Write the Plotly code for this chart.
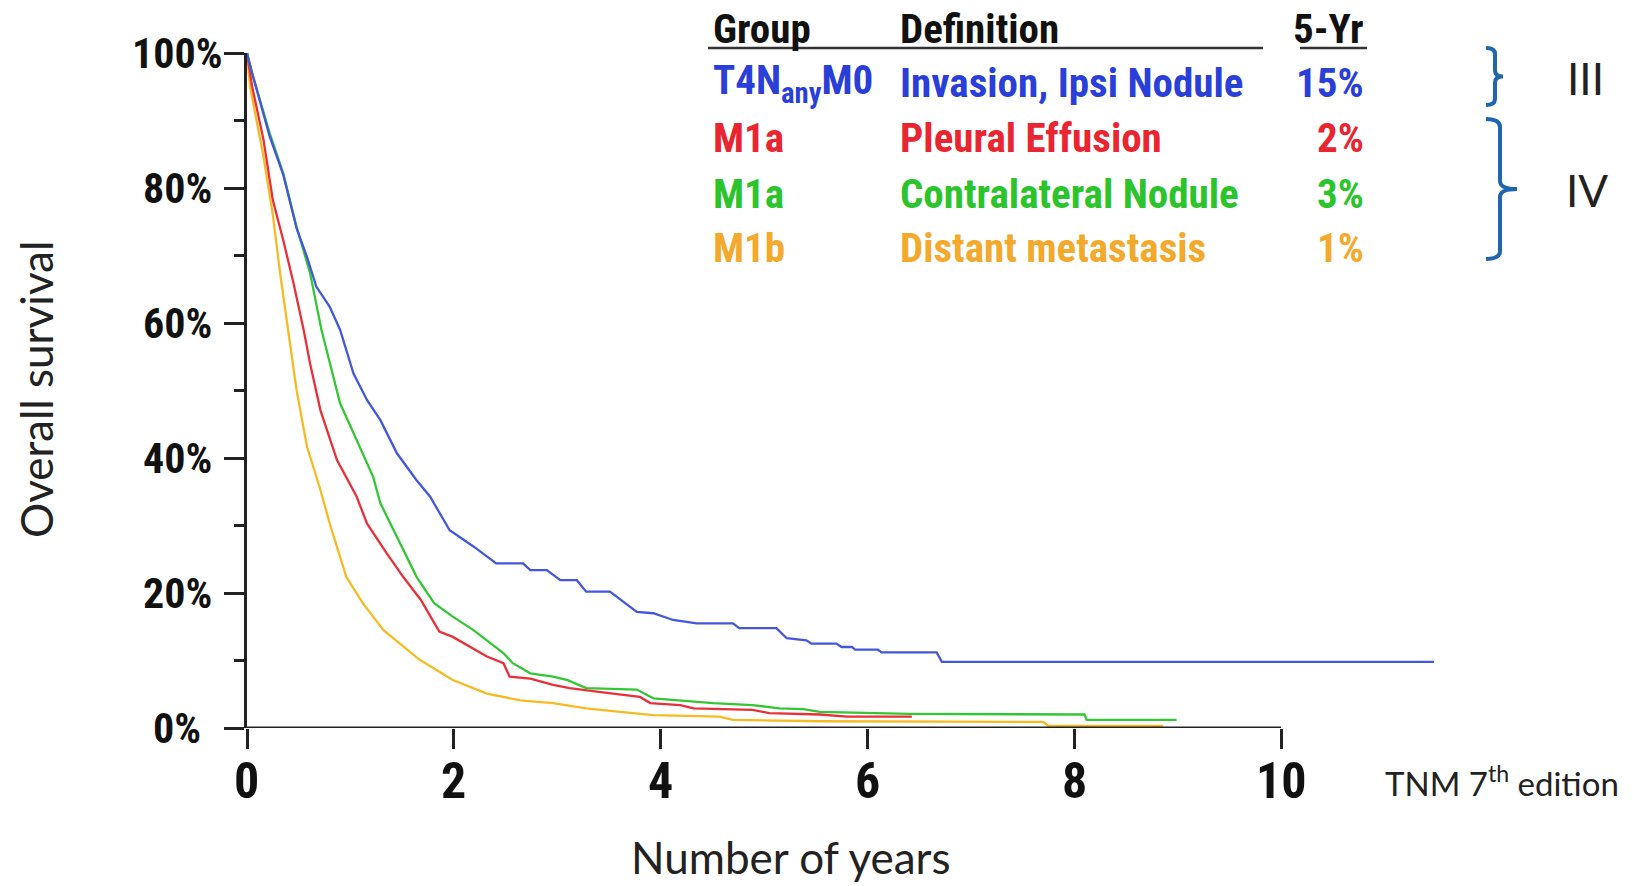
import plotly.graph_objects as go

W, H = 1633, 886

# ---------------- data ----------------
blue_t = [0, 0.05, 0.22, 0.35, 0.48, 0.58, 0.67, 0.80, 0.90, 1.03, 1.16, 1.29, 1.45, 1.64, 1.77, 1.96,
          2.19, 2.41, 2.67, 2.74, 2.90, 3.03, 3.19, 3.28, 3.51, 3.61, 3.77, 3.93, 4.12, 4.35, 4.70,
          4.76, 5.12, 5.22, 5.41, 5.46, 5.70, 5.75, 5.85, 5.88, 6.10, 6.14, 6.67, 6.72, 11.48]
blue_s = [100, 97, 87.6, 82, 74, 69.8, 65.4, 62.4, 59, 52.5, 48.6, 45.6, 40.7, 36.7, 34.3, 29.3,
          26.9, 24.4, 24.4, 23.4, 23.4, 21.9, 21.9, 20.2, 20.2, 19.0, 17.2, 17.0, 16.0, 15.5, 15.5,
          14.8, 14.8, 13.3, 13.0, 12.5, 12.5, 12.0, 12.0, 11.6, 11.6, 11.2, 11.2, 9.8, 9.8]

red_t = [0, 0.05, 0.16, 0.25, 0.35, 0.45, 0.55, 0.61, 0.71, 0.87, 1.06, 1.16, 1.35, 1.51, 1.68,
         1.86, 1.99, 2.16, 2.32, 2.48, 2.54, 2.74, 2.96, 3.12, 3.35, 3.48, 3.80, 3.90, 4.19, 4.32,
         4.89, 5.05, 5.54, 5.80, 6.43]
red_s = [100, 95, 87.1, 78.2, 72.3, 65.9, 58.8, 54, 47.1, 39.7, 34.3, 30.3, 25.9, 22.4, 19.0,
         14.3, 13.5, 12.0, 10.6, 9.6, 7.6, 7.3, 6.4, 5.9, 5.4, 5.2, 4.6, 3.7, 3.4, 2.9,
         2.7, 2.2, 2.0, 1.7, 1.7]

green_t = [0, 0.05, 0.22, 0.35, 0.48, 0.61, 0.72, 0.80, 0.90, 1.03, 1.22, 1.29, 1.45, 1.64, 1.81,
           1.99, 2.19, 2.32, 2.48, 2.57, 2.74, 2.96, 3.10, 3.28, 3.77, 3.93, 4.51, 4.89, 5.15,
           5.38, 5.54, 6.41, 8.10, 8.12, 8.99]
green_s = [100, 97, 88.1, 82.2, 74.2, 67.4, 59, 54, 48.1, 43.7, 37.2, 33.3, 28.3, 22.4, 18.5,
           16.5, 14.5, 13.0, 11.1, 9.6, 8.1, 7.6, 7.1, 5.9, 5.7, 4.4, 3.7, 3.4, 2.9,
           2.8, 2.4, 2.1, 2.0, 1.2, 1.2]

yellow_t = [0, 0.03, 0.16, 0.25, 0.32, 0.40, 0.48, 0.58, 0.71, 0.80, 0.96, 1.12, 1.32, 1.67, 1.99,
            2.32, 2.64, 2.96, 3.28, 3.61, 3.93, 4.57, 4.70, 5.54, 7.70, 7.75, 8.86]
yellow_s = [100, 95, 84.6, 76, 67.4, 58.5, 50, 41.7, 35.3, 30.3, 22.4, 18.5, 14.5, 10.1, 7.1,
            5.1, 4.1, 3.7, 2.9, 2.4, 1.9, 1.7, 1.2, 1.0, 0.9, 0.3, 0.3]

groups = ["T4N<sub>any</sub>M0", "M1a", "M1a", "M1b"]
definitions = ["Invasion, Ipsi Nodule", "Pleural Effusion", "Contralateral Nodule", "Distant metastasis"]
five_yr = ["15%", "2%", "3%", "1%"]
headers = ["Group", "Definition", "5-Yr"]

y_ticks = [0, 20, 40, 60, 80, 100]
y_tick_text = ["0%", "20%", "40%", "60%", "80%", "100%"]
y_minor = [10, 30, 50, 70, 90]
x_ticks = [0, 2, 4, 6, 8, 10]
x_tick_text = ["0", "2", "4", "6", "8", "10"]

line_colors = ["#4457dc", "#e8303a", "#34c634", "#f5bb22"]
text_colors = ["#2a3fd8", "#e82530", "#2cc42c", "#f2a92c"]
curves = [(blue_t, blue_s), (red_t, red_s), (green_t, green_s), (yellow_t, yellow_s)]

NARROW = "Liberation Sans Narrow, Arial Narrow, Roboto Condensed, DejaVu Sans Condensed, sans-serif"
PLAIN = "Lato, Open Sans, sans-serif"
AX = "#222222"


def px(x):
    return x / W


def py(y):
    return 1 - y / H


fig = go.Figure()
for i in [3, 1, 2, 0]:
    t, s = curves[i]
    fig.add_trace(go.Scatter(x=t, y=s, mode="lines", line=dict(color=line_colors[i], width=2.3),
                             showlegend=False, hoverinfo="skip"))

fig.update_layout(
    width=W, height=H, autosize=False,
    margin=dict(l=0, r=0, t=0, b=0, pad=0),
    paper_bgcolor="white", plot_bgcolor="white",
    showlegend=False,
    xaxis=dict(domain=[247 / W, (247 + 12 * 103.4) / W], range=[0, 12], automargin=False,
               showgrid=False, zeroline=False, showline=False,
               tickmode="array", tickvals=x_ticks, showticklabels=False,
               ticks="outside", ticklen=20, tickwidth=3, tickcolor=AX),
    yaxis=dict(domain=[1 - 728 / H, 1 - 53 / H], range=[0, 100], automargin=False,
               showgrid=False, zeroline=False, showline=True, linewidth=3, linecolor=AX,
               tickmode="array", tickvals=y_ticks, showticklabels=False,
               ticks="outside", ticklen=20, tickwidth=3, tickcolor=AX,
               minor=dict(tickvals=y_minor, ticks="outside", ticklen=10, tickwidth=3, tickcolor=AX)),
)

# x axis line only from 0 to 10
fig.add_shape(type="line", xref="x", yref="y", x0=0, x1=x_ticks[-1], y0=0, y1=0,
              line=dict(color=AX, width=3))


def label(text, x, y, font, xanchor="center", angle=0):
    return dict(text=text, x=px(x), y=py(y), xref="paper", yref="paper", xanchor=xanchor,
                yanchor="middle", textangle=angle, showarrow=False, font=font)


ann = []
# tick labels
xt_font = dict(family=NARROW, size=50, color="#111", weight="bold")
for v, s in zip(x_ticks, x_tick_text):
    ann.append(dict(text=s, x=v, y=py(781), xref="x", yref="paper", xanchor="center",
                    yanchor="middle", showarrow=False, font=xt_font))
yt_font = dict(family=NARROW, size=42, color="#111", weight="bold")
for v, s in zip(y_ticks, y_tick_text):
    ann.append(dict(text=s, x=px(177), y=v, xref="paper", yref="y", xanchor="center",
                    yanchor="middle", showarrow=False, font=yt_font))

title_font = dict(family=PLAIN, size=44, color="#222")
ann.append(label("Overall survival", 36, 390, title_font, angle=-90))
ann.append(label("Number of years", 791, 857, title_font))
ann.append(label("TNM 7<sup>th</sup> edition", 1383, 781, dict(family=PLAIN, size=33, color="#222"),
                 xanchor="left"))
ann.append(label("III", 1585, 78, title_font))
ann.append(label("IV", 1587, 190, title_font))

hdr_font = dict(family=NARROW, size=41, color="#111", weight="bold")
ann.append(label(headers[0], 711, 29, hdr_font, xanchor="left"))
ann.append(label(headers[1], 898, 29, hdr_font, xanchor="left"))
ann.append(label(headers[2], 1366, 29, hdr_font, xanchor="right"))

row_y = [83, 138.5, 194, 248]
for i in range(4):
    f = dict(family=NARROW, size=41, color=text_colors[i], weight="bold")
    ann.append(label(groups[i], 711, row_y[i], f, xanchor="left"))
    ann.append(label(definitions[i], 898, row_y[i], f, xanchor="left"))
    ann.append(label(five_yr[i], 1366, row_y[i], f, xanchor="right"))
fig.update_layout(annotations=ann)

for x0, x1 in [(708, 1263), (1300, 1367)]:
    fig.add_shape(type="line", xref="paper", yref="paper", x0=px(x0), x1=px(x1), y0=py(48), y1=py(48),
                  line=dict(color="#333", width=2.5))


def bracket(top, bottom, xh, xv, xn, r=7):
    mid = (top + bottom) / 2
    return (f"M {px(xh)},{py(top)} Q {px(xv)},{py(top)} {px(xv)},{py(top + r)} "
            f"L {px(xv)},{py(mid - r)} Q {px(xv)},{py(mid)} {px(xn)},{py(mid)} "
            f"Q {px(xv)},{py(mid)} {px(xv)},{py(mid + r)} "
            f"L {px(xv)},{py(bottom - r)} Q {px(xv)},{py(bottom)} {px(xh)},{py(bottom)}")


BRC = "#1f66ad"
fig.add_shape(type="path", xref="paper", yref="paper", path=bracket(48, 105, 1486, 1495, 1503, 6),
              line=dict(color=BRC, width=4))
fig.add_shape(type="path", xref="paper", yref="paper", path=bracket(119, 259, 1486, 1500, 1517, 8),
              line=dict(color=BRC, width=4))

fig.write_html("out.html")
